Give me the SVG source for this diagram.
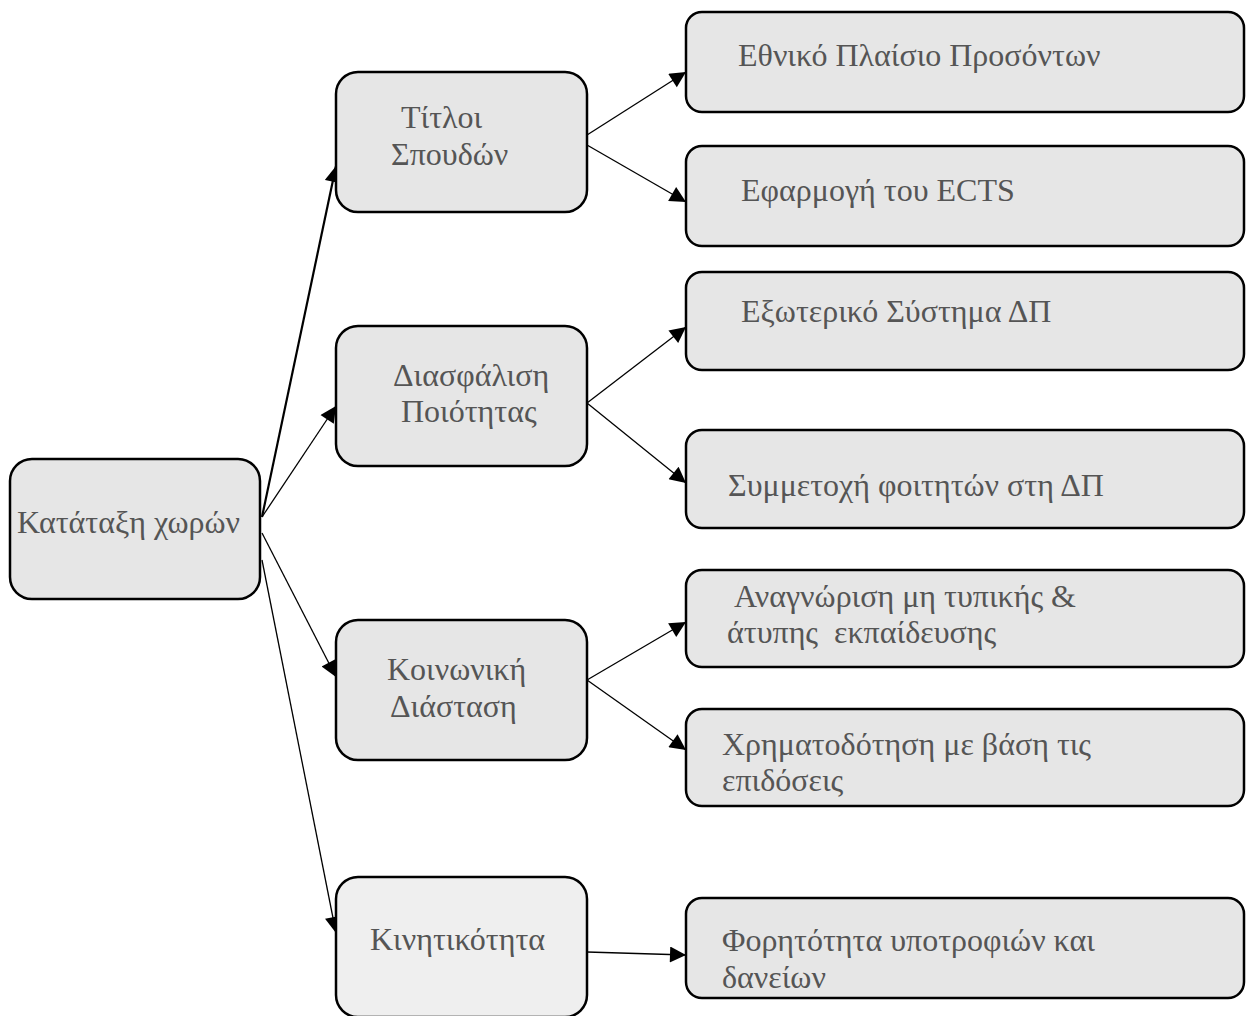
<svg xmlns="http://www.w3.org/2000/svg" width="1251" height="1016" viewBox="0 0 1251 1016">
<defs>
<style>
.box{fill:#e6e6e6;stroke:#000;stroke-width:2.5}
.light{fill:#efefef}
.t{font-family:"Liberation Serif","Times New Roman",serif;font-size:32px;fill:#555}
.c{stroke:#000;stroke-width:1.3;fill:none;marker-end:url(#ah)}
.thick{stroke-width:2.2}
</style>
<marker id="ah" viewBox="0 0 10 10" refX="10" refY="5" markerWidth="18" markerHeight="16" markerUnits="userSpaceOnUse" orient="auto">
<path d="M0,0 L10,5 L0,10 z" fill="#000"/>
</marker>
</defs>
<g id="connectors">
<line class="c thick" x1="262" y1="517" x2="336" y2="166"/>
<line class="c" x1="262" y1="517" x2="336" y2="406"/>
<line class="c" x1="262" y1="533" x2="336" y2="677"/>
<line class="c" x1="262" y1="560" x2="336" y2="933"/>
<line class="c" x1="587" y1="135" x2="686" y2="72"/>
<line class="c" x1="587" y1="145" x2="686" y2="202"/>
<line class="c" x1="587" y1="403" x2="686" y2="327"/>
<line class="c" x1="587" y1="403" x2="686" y2="483"/>
<line class="c" x1="587" y1="680" x2="686" y2="622"/>
<line class="c" x1="587" y1="680" x2="686" y2="750"/>
<line class="c" x1="587" y1="952" x2="686" y2="955"/>
</g>
<g id="root"><rect class="box" x="10" y="459" width="250" height="140" rx="22"/><text class="t" x="17" y="533">Κατάταξη χωρών</text></g>
<g id="titloi"><rect class="box" x="336" y="72" width="251" height="140" rx="22"/><text class="t" x="401" y="128">Τίτλοι</text><text class="t" x="391" y="165">Σπουδών</text></g>
<g id="diasfalisi"><rect class="box" x="336" y="326" width="251" height="140" rx="22"/><text class="t" x="393" y="386">Διασφάλιση</text><text class="t" x="401" y="422">Ποιότητας</text></g>
<g id="koinoniki"><rect class="box" x="336" y="620" width="251" height="140" rx="22"/><text class="t" x="387" y="680">Κοινωνική</text><text class="t" x="390" y="717">Διάσταση</text></g>
<g id="kinitikotita"><rect class="box light" x="336" y="877" width="251" height="140" rx="22"/><text class="t" x="370" y="950">Κινητικότητα</text></g>
<g id="b1"><rect class="box" x="686" y="12" width="558" height="100" rx="16"/><text class="t" x="738" y="66">Εθνικό Πλαίσιο Προσόντων</text></g>
<g id="b2"><rect class="box" x="686" y="146" width="558" height="100" rx="16"/><text class="t" x="741" y="201">Εφαρμογή του ECTS</text></g>
<g id="b3"><rect class="box" x="686" y="272" width="558" height="98" rx="16"/><text class="t" x="741" y="322">Εξωτερικό Σύστημα ΔΠ</text></g>
<g id="b4"><rect class="box" x="686" y="430" width="558" height="98" rx="16"/><text class="t" x="728" y="496">Συμμετοχή φοιτητών στη ΔΠ</text></g>
<g id="b5"><rect class="box" x="686" y="570" width="558" height="97" rx="16"/><text class="t" x="734" y="607">Αναγνώριση μη τυπικής &amp;</text><text class="t" x="727" y="643" xml:space="preserve">άτυπης  εκπαίδευσης</text></g>
<g id="b6"><rect class="box" x="686" y="709" width="558" height="97" rx="16"/><text class="t" x="722" y="755">Χρηματοδότηση με βάση τις</text><text class="t" x="722" y="791">επιδόσεις</text></g>
<g id="b7"><rect class="box" x="686" y="898" width="558" height="100" rx="16"/><text class="t" x="722" y="951">Φορητότητα υποτροφιών και</text><text class="t" x="722" y="988">δανείων</text></g>
</svg>
